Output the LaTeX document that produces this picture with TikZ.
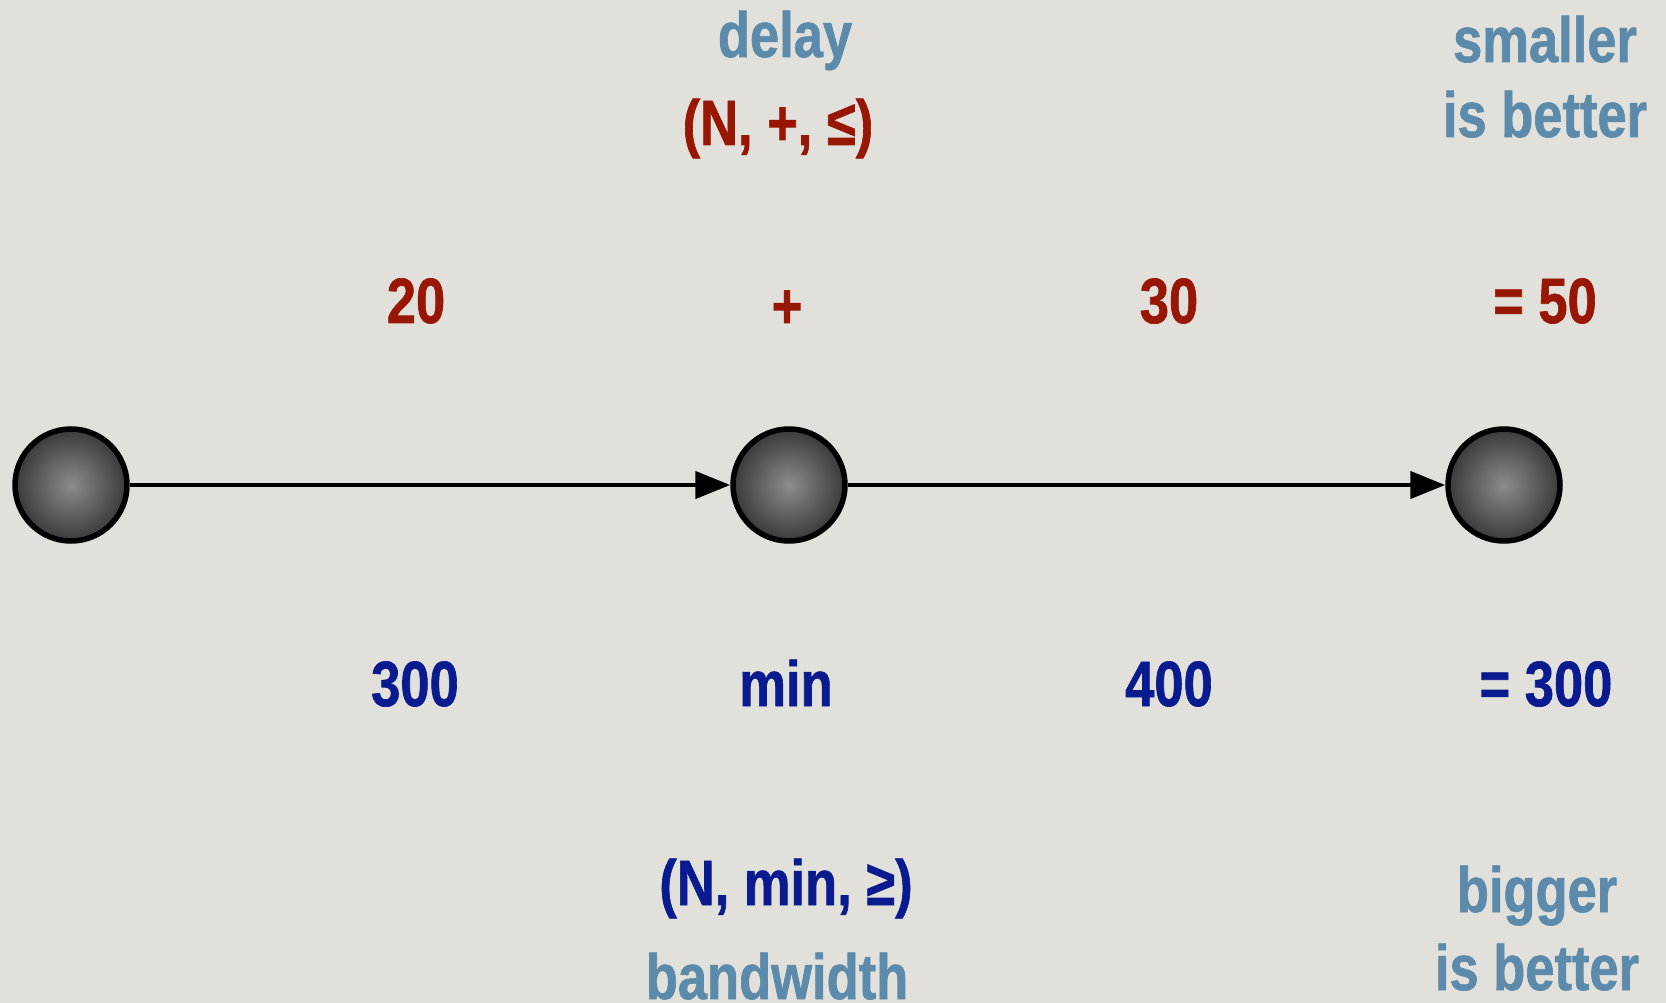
\documentclass[tikz,border=0pt]{standalone}
\usepackage{fontspec}
\setmainfont{Liberation Sans}[FakeStretch=0.82,BoldFeatures={FakeBold=1}]
\usetikzlibrary{arrows.meta}
\definecolor{bg}{RGB}{225,224,218}
\definecolor{dred}{RGB}{152,22,4}
\definecolor{dblue}{RGB}{10,26,143}
\definecolor{sblue}{RGB}{92,138,170}
\begin{document}
\begin{tikzpicture}[x=1pt,y=-1pt,
  lbl/.style={anchor=base,inner sep=0pt,font=\fontsize{64}{64}\selectfont\bfseries},
  small/.style={anchor=base,inner sep=0pt,font=\fontsize{64}{64}\selectfont\bfseries},
  ball/.style={circle,draw=black,line width=5.5pt,minimum size=112pt,inner sep=0pt,
    inner color={rgb,255:red,140;green,140;blue,140},outer color={rgb,255:red,58;green,58;blue,58}},
  edge/.style={line width=4.5pt,-{Triangle[length=35pt,width=27pt]}}]
\fill[bg] (0,0) rectangle (1666,1003);
\useasboundingbox (0,0) rectangle (1666,1003);
\node[ball] (a) at (71,485) {};
\node[ball] (b) at (789,485) {};
\node[ball] (c) at (1504,485) {};
\draw[edge] (a) -- (b);
\draw[edge] (b) -- (c);
% top labels
\node[lbl,text=sblue] (delay) at (785,57) {delay};
\node[small,text=dred] (dsr) at (778,145) {(N, +, ≤)};
\node[lbl,text=sblue] (sm1) at (1545,62) {smaller};
\node[lbl,text=sblue] (sm2) at (1545,137) {is better};
\node[lbl,text=dred] (w1) at (416,323) {20};
\node[lbl,text=dred] (op1) at (787,328) {+};
\node[lbl,text=dred] (w2) at (1169,323) {30};
\node[lbl,text=dred] (r1) at (1545,323) {= 50};
% bottom labels
\node[lbl,text=dblue] (b1) at (415,706) {300};
\node[lbl,text=dblue] (op2) at (786,706) {min};
\node[lbl,text=dblue] (b2) at (1169,706) {400};
\node[lbl,text=dblue] (r2) at (1546,706) {= 300};
\node[small,text=dblue] (bsr) at (786,905) {(N, min, ≥)};
\node[lbl,text=sblue] (bw) at (777,999) {bandwidth};
\node[lbl,text=sblue] (bg1) at (1537,912) {bigger};
\node[lbl,text=sblue] (bg2) at (1537,990) {is better};
\end{tikzpicture}
\end{document}
